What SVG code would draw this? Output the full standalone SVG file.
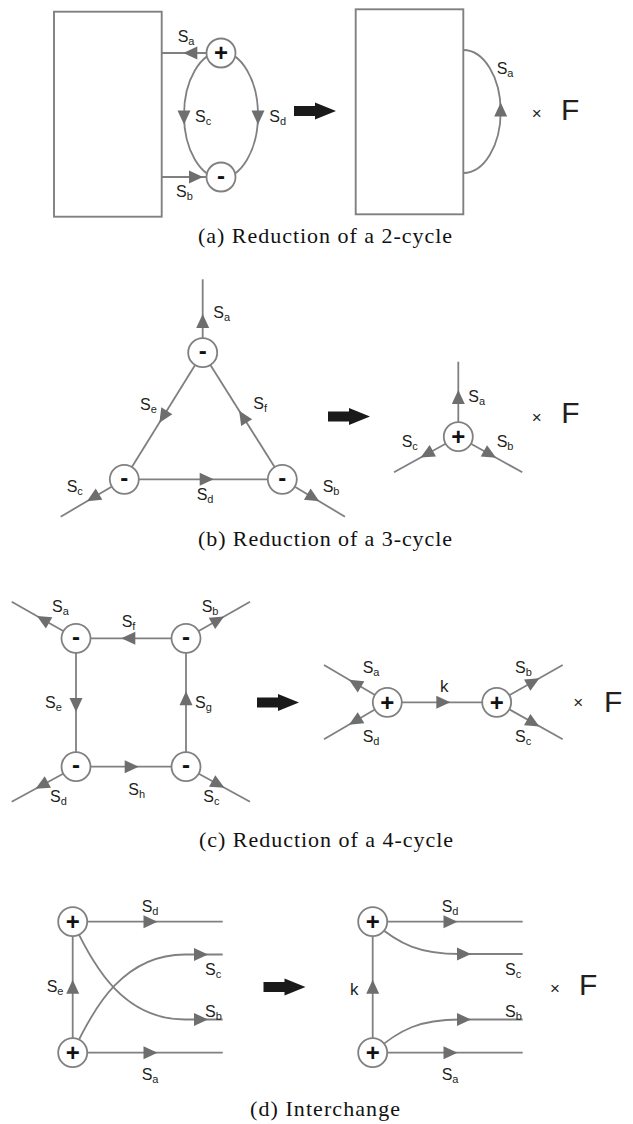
<svg xmlns="http://www.w3.org/2000/svg" width="633" height="1124" viewBox="0 0 633 1124">
<style>
.bg{fill:#ffffff}
.ln{fill:none;stroke:#808080;stroke-width:1.8}
.box{fill:#ffffff;stroke:#808080;stroke-width:1.9}
.nd{fill:#ffffff;stroke:#808080;stroke-width:1.8}
.ah{fill:#6e6e6e}
.big{fill:#1a1a1a}
.sg{font-family:"Liberation Sans",Arial,sans-serif;font-weight:bold;font-size:24px;fill:#111;text-anchor:middle}
.lb{font-family:"Liberation Sans",Arial,sans-serif;font-size:16px;fill:#231f20}
.sub{font-size:11px}
.k{font-family:"Liberation Sans",Arial,sans-serif;font-size:17px;fill:#231f20}
.x{font-family:"Liberation Sans",Arial,sans-serif;font-size:17px;fill:#231f20;text-anchor:middle}
.F{font-family:"Liberation Sans",Arial,sans-serif;font-size:30px;fill:#231f20}
.cap{font-family:"Liberation Serif","Times New Roman",serif;font-size:22px;fill:#111;text-anchor:middle}
</style>
<defs>
<path id="ah" class="ah" d="M7,0 L-7,-6.5 L-7,6.5 Z"/>
<path id="bigarrow" class="big" d="M0,-5 H21 V-8.5 L42,0 L21,8.5 V5 H0 Z"/>
</defs>
<rect class="bg" x="0" y="0" width="633" height="1124"/>

<g id="connectors">
<!-- (a) -->
<line class="ln" x1="161.7" y1="53" x2="207" y2="53"/>
<line class="ln" x1="161.7" y1="177" x2="207" y2="177"/>
<ellipse class="ln" cx="221" cy="115" rx="37" ry="63"/>
<path class="ln" d="M463.3,50 A37.4,61.5 0 0 1 463.3,173"/>
<use href="#ah" transform="translate(190.3,53) rotate(180)"/>
<use href="#ah" transform="translate(196,177)"/>
<use href="#ah" transform="translate(184,117.5) rotate(90)"/>
<use href="#ah" transform="translate(258,117.5) rotate(90)"/>
<use href="#ah" transform="translate(500.7,109.5) rotate(-90)"/>
<use href="#bigarrow" transform="translate(294,111)"/>
<!-- (b) -->
<line class="ln" x1="202.7" y1="279.3" x2="202.7" y2="352.7"/>
<line class="ln" x1="202.7" y1="352.7" x2="124.3" y2="479.3"/>
<line class="ln" x1="202.7" y1="352.7" x2="282.3" y2="479.3"/>
<line class="ln" x1="124.3" y1="479.3" x2="282.3" y2="479.3"/>
<line class="ln" x1="124.3" y1="479.3" x2="60.7" y2="516.7"/>
<line class="ln" x1="282.3" y1="479.3" x2="345" y2="516.7"/>
<line class="ln" x1="458.3" y1="361.7" x2="458.3" y2="436.7"/>
<line class="ln" x1="458.3" y1="436.7" x2="394" y2="472.3"/>
<line class="ln" x1="458.3" y1="436.7" x2="522.3" y2="472.3"/>
<use href="#ah" transform="translate(202.7,321) rotate(-90)"/>
<use href="#ah" transform="translate(163.1,416.7) rotate(121.8)"/>
<use href="#ah" transform="translate(242.9,416.7) rotate(-122.2)"/>
<use href="#ah" transform="translate(206.7,479.3)"/>
<use href="#ah" transform="translate(93,497.7) rotate(149.5)"/>
<use href="#ah" transform="translate(313.3,497.7) rotate(30.8)"/>
<use href="#ah" transform="translate(458.3,397) rotate(-90)"/>
<use href="#ah" transform="translate(426.7,454.2) rotate(151)"/>
<use href="#ah" transform="translate(490,454.3) rotate(29)"/>
<use href="#bigarrow" transform="translate(328,416.5)"/>
<!-- (c) -->
<line class="ln" x1="76" y1="638.3" x2="186" y2="638.3"/>
<line class="ln" x1="76" y1="638.3" x2="76" y2="766.7"/>
<line class="ln" x1="186" y1="638.3" x2="186" y2="766.7"/>
<line class="ln" x1="76" y1="766.7" x2="186" y2="766.7"/>
<line class="ln" x1="76" y1="638.3" x2="11.7" y2="601.7"/>
<line class="ln" x1="186" y1="638.3" x2="250" y2="601.7"/>
<line class="ln" x1="76" y1="766.7" x2="11.7" y2="801.7"/>
<line class="ln" x1="186" y1="766.7" x2="250" y2="801.7"/>
<line class="ln" x1="387.3" y1="702.3" x2="496.7" y2="702.3"/>
<line class="ln" x1="387.3" y1="702.3" x2="324" y2="665"/>
<line class="ln" x1="387.3" y1="702.3" x2="324" y2="739.3"/>
<line class="ln" x1="496.7" y1="702.3" x2="562.7" y2="665"/>
<line class="ln" x1="496.7" y1="702.3" x2="562.7" y2="739.3"/>
<use href="#ah" transform="translate(43,619.5) rotate(-150.3)"/>
<use href="#ah" transform="translate(218,620) rotate(-29.8)"/>
<use href="#ah" transform="translate(41.7,785.4) rotate(151.4)"/>
<use href="#ah" transform="translate(218.3,784.4) rotate(28.7)"/>
<use href="#ah" transform="translate(128.3,638.3) rotate(180)"/>
<use href="#ah" transform="translate(76,705) rotate(90)"/>
<use href="#ah" transform="translate(186,698.3) rotate(-90)"/>
<use href="#ah" transform="translate(131.7,766.7)"/>
<use href="#ah" transform="translate(443.3,702.3)"/>
<use href="#ah" transform="translate(355,683.3) rotate(-149.5)"/>
<use href="#ah" transform="translate(355,721.3) rotate(149.5)"/>
<use href="#ah" transform="translate(533.3,681.6) rotate(-29.5)"/>
<use href="#ah" transform="translate(533.3,723) rotate(29.5)"/>
<use href="#bigarrow" transform="translate(257,702.5)"/>
<!-- (d) -->
<line class="ln" x1="72.7" y1="921.7" x2="222.7" y2="921.7"/>
<line class="ln" x1="72.7" y1="1052.7" x2="222.7" y2="1052.7"/>
<line class="ln" x1="72.7" y1="921.7" x2="72.7" y2="1052.7"/>
<path class="ln" d="M72.7,921.7 C95,970 125,1019.5 185,1019.5 L222.7,1019.5"/>
<path class="ln" d="M72.7,1052.7 C95,1004.4 125,954.5 185,954.5 L222.7,954.5"/>
<line class="ln" x1="372.7" y1="921.7" x2="522.7" y2="921.7"/>
<line class="ln" x1="372.7" y1="1052.7" x2="522.7" y2="1052.7"/>
<line class="ln" x1="372.7" y1="921.7" x2="372.7" y2="1052.7"/>
<path class="ln" d="M372.7,921.7 C400,945 420,954 460,954 L522.7,954"/>
<path class="ln" d="M372.7,1052.7 C400,1029 420,1019.5 460,1019.5 L522.7,1019.5"/>
<use href="#ah" transform="translate(150.5,921.7)"/>
<use href="#ah" transform="translate(150.5,1052.7)"/>
<use href="#ah" transform="translate(72.7,986.7) rotate(-90)"/>
<use href="#ah" transform="translate(201,954.5)"/>
<use href="#ah" transform="translate(201,1019.5)"/>
<use href="#ah" transform="translate(450.5,921.7)"/>
<use href="#ah" transform="translate(450.5,1052.7)"/>
<use href="#ah" transform="translate(372.7,986.7) rotate(-90)"/>
<use href="#ah" transform="translate(464,954)"/>
<use href="#ah" transform="translate(464,1019.5)"/>
<use href="#bigarrow" transform="translate(263.5,987)"/>
</g>

<!-- nodes (a) -->
<g id="a-box-left"><rect class="box" x="54" y="11.7" width="107.7" height="205"/></g>
<g id="a-plus"><circle class="nd" cx="221" cy="53" r="14.5"/><text class="sg" x="221" y="61.4">+</text></g>
<g id="a-minus"><circle class="nd" cx="221" cy="177" r="14.5"/><text class="sg" x="221" y="183.7">-</text></g>
<g id="a-box-right"><rect class="box" x="355.7" y="9.3" width="107.6" height="205"/></g>
<!-- nodes (b) -->
<g id="b-top"><circle class="nd" cx="202.7" cy="352.7" r="14.5"/><text class="sg" x="202.7" y="359.4">-</text></g>
<g id="b-left"><circle class="nd" cx="124.3" cy="479.3" r="14.5"/><text class="sg" x="124.3" y="486">-</text></g>
<g id="b-right"><circle class="nd" cx="282.3" cy="479.3" r="14.5"/><text class="sg" x="282.3" y="486">-</text></g>
<g id="b-plus"><circle class="nd" cx="458.3" cy="436.7" r="14.5"/><text class="sg" x="458.3" y="445.1">+</text></g>
<!-- nodes (c) -->
<g id="c-tl"><circle class="nd" cx="76" cy="638.3" r="14.5"/><text class="sg" x="76" y="645">-</text></g>
<g id="c-tr"><circle class="nd" cx="186" cy="638.3" r="14.5"/><text class="sg" x="186" y="645">-</text></g>
<g id="c-bl"><circle class="nd" cx="76" cy="766.7" r="14.5"/><text class="sg" x="76" y="773.4">-</text></g>
<g id="c-br"><circle class="nd" cx="186" cy="766.7" r="14.5"/><text class="sg" x="186" y="773.4">-</text></g>
<g id="c-plus-left"><circle class="nd" cx="387.3" cy="702.3" r="14.5"/><text class="sg" x="387.3" y="710.7">+</text></g>
<g id="c-plus-right"><circle class="nd" cx="496.7" cy="702.3" r="14.5"/><text class="sg" x="496.7" y="710.7">+</text></g>
<!-- nodes (d) -->
<g id="d-top"><circle class="nd" cx="72.7" cy="921.7" r="14.5"/><text class="sg" x="72.7" y="930.1">+</text></g>
<g id="d-bottom"><circle class="nd" cx="72.7" cy="1052.7" r="14.5"/><text class="sg" x="72.7" y="1061.1">+</text></g>
<g id="d-top-r"><circle class="nd" cx="372.7" cy="921.7" r="14.5"/><text class="sg" x="372.7" y="930.1">+</text></g>
<g id="d-bottom-r"><circle class="nd" cx="372.7" cy="1052.7" r="14.5"/><text class="sg" x="372.7" y="1061.1">+</text></g>

<g id="labels">
<!-- (a) -->
<text class="lb" x="177.7" y="41.7">S<tspan class="sub" dy="3">a</tspan></text>
<text class="lb" x="176" y="196.7">S<tspan class="sub" dy="3">b</tspan></text>
<text class="lb" x="195" y="121.7">S<tspan class="sub" dy="3">c</tspan></text>
<text class="lb" x="269.3" y="121.7">S<tspan class="sub" dy="3">d</tspan></text>
<text class="lb" x="496.7" y="74">S<tspan class="sub" dy="3">a</tspan></text>
<text class="x" x="536.7" y="119">×</text>
<text class="F" x="561" y="120">F</text>
<text class="cap" x="325" y="243" textLength="254" lengthAdjust="spacing">(a) Reduction of a 2-cycle</text>
<!-- (b) -->
<text class="lb" x="213.3" y="318.3">S<tspan class="sub" dy="3">a</tspan></text>
<text class="lb" x="140" y="410">S<tspan class="sub" dy="3">e</tspan></text>
<text class="lb" x="253.3" y="409">S<tspan class="sub" dy="3">f</tspan></text>
<text class="lb" x="66.7" y="491.7">S<tspan class="sub" dy="3">c</tspan></text>
<text class="lb" x="196.7" y="500">S<tspan class="sub" dy="3">d</tspan></text>
<text class="lb" x="322.7" y="491.7">S<tspan class="sub" dy="3">b</tspan></text>
<text class="lb" x="468.3" y="401.7">S<tspan class="sub" dy="3">a</tspan></text>
<text class="lb" x="401.7" y="446.7">S<tspan class="sub" dy="3">c</tspan></text>
<text class="lb" x="496.7" y="446.7">S<tspan class="sub" dy="3">b</tspan></text>
<text class="x" x="536.7" y="422.7">×</text>
<text class="F" x="561.3" y="423">F</text>
<text class="cap" x="325" y="546" textLength="254" lengthAdjust="spacing">(b) Reduction of a 3-cycle</text>
<!-- (c) -->
<text class="lb" x="52" y="611.7">S<tspan class="sub" dy="3">a</tspan></text>
<text class="lb" x="201.7" y="611.7">S<tspan class="sub" dy="3">b</tspan></text>
<text class="lb" x="121.7" y="626.7">S<tspan class="sub" dy="3">f</tspan></text>
<text class="lb" x="45" y="708.3">S<tspan class="sub" dy="3">e</tspan></text>
<text class="lb" x="195" y="708.3">S<tspan class="sub" dy="3">g</tspan></text>
<text class="lb" x="128.3" y="795">S<tspan class="sub" dy="3">h</tspan></text>
<text class="lb" x="50" y="801.7">S<tspan class="sub" dy="3">d</tspan></text>
<text class="lb" x="203.3" y="801.7">S<tspan class="sub" dy="3">c</tspan></text>
<text class="lb" x="362.7" y="673.3">S<tspan class="sub" dy="3">a</tspan></text>
<text class="lb" x="362.7" y="741.7">S<tspan class="sub" dy="3">d</tspan></text>
<text class="lb" x="515" y="673.3">S<tspan class="sub" dy="3">b</tspan></text>
<text class="lb" x="515" y="741.7">S<tspan class="sub" dy="3">c</tspan></text>
<text class="k" x="440" y="691.7">k</text>
<text class="x" x="578.3" y="708">×</text>
<text class="F" x="604" y="711.7">F</text>
<text class="cap" x="326" y="847" textLength="254" lengthAdjust="spacing">(c) Reduction of a 4-cycle</text>
<!-- (d) -->
<text class="lb" x="141.7" y="911.7">S<tspan class="sub" dy="3">d</tspan></text>
<text class="lb" x="205" y="975">S<tspan class="sub" dy="3">c</tspan></text>
<text class="lb" x="205" y="1016.7">S<tspan class="sub" dy="3">b</tspan></text>
<text class="lb" x="141.7" y="1080">S<tspan class="sub" dy="3">a</tspan></text>
<text class="lb" x="46.7" y="991.7">S<tspan class="sub" dy="3">e</tspan></text>
<text class="lb" x="441.7" y="911.7">S<tspan class="sub" dy="3">d</tspan></text>
<text class="lb" x="505" y="975">S<tspan class="sub" dy="3">c</tspan></text>
<text class="lb" x="505" y="1016.7">S<tspan class="sub" dy="3">b</tspan></text>
<text class="lb" x="441.7" y="1080">S<tspan class="sub" dy="3">a</tspan></text>
<text class="k" x="350" y="995">k</text>
<text class="x" x="555" y="993.7">×</text>
<text class="F" x="579" y="995">F</text>
<text class="cap" x="325" y="1116" textLength="150" lengthAdjust="spacing">(d) Interchange</text>
</g>
</svg>
